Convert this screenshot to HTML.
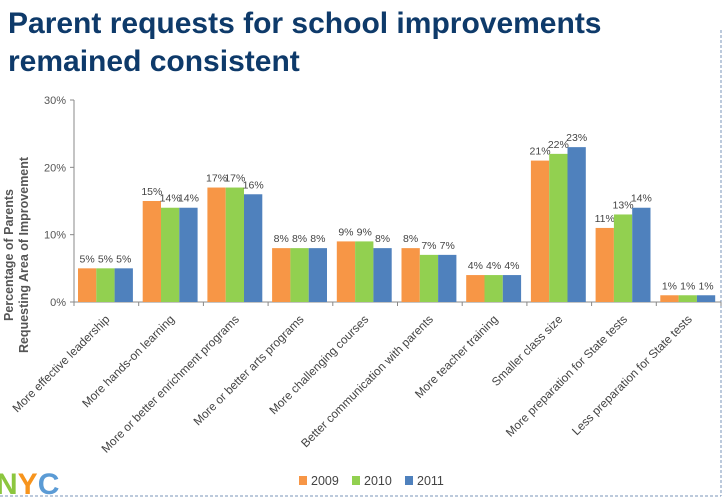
<!DOCTYPE html>
<html><head><meta charset="utf-8">
<style>
body{margin:0;background:#fff;width:727px;height:499px;overflow:hidden;font-family:"Liberation Sans",sans-serif;position:relative}
.t{position:absolute;left:8px;top:5px;font-weight:bold;font-size:30px;line-height:38px;color:#0e3a6a}
</style></head><body>
<div class="t">Parent requests for school improvements<br>remained consistent</div>
<svg id="c" width="727" height="499" style="position:absolute;left:0;top:0">
<line x1="0" y1="496" x2="721" y2="496" stroke="#7a96b8" stroke-dasharray="3,2"/>
<line x1="721" y1="30" x2="721" y2="496" stroke="#7a96b8" stroke-dasharray="3,2"/>
<text x="-4" y="494" font-size="30" font-weight="bold" fill="#8cc63f">N<tspan fill="#f7941d">Y</tspan><tspan fill="#5b9bd5">C</tspan></text>
</svg>
<script>
const categories=["More effective leadership","More hands-on learning","More or better enrichment programs","More or better arts programs","More challenging courses","Better communication with parents","More teacher training","Smaller class size","More preparation for State tests","Less preparation for State tests"];
const s2009=[5,15,17,8,9,8,4,21,11,1];
const s2010=[5,14,17,8,9,7,4,22,13,1];
const s2011=[5,14,16,8,8,7,4,23,14,1];
const yTicks=[0,10,20,30];
const seriesNames=["2009","2010","2011"];
const colors=["#f79646","#92d050","#4f81bd"];
const svg=document.getElementById('c');const NS="http://www.w3.org/2000/svg";
const x0=74,x1=721,y0=302,yTop=100;
const gw=(x1-x0)/categories.length;
const y=v=>y0-(v/30)*(y0-yTop);
function mk(t,a,txt){const e=document.createElementNS(NS,t);for(const k in a)e.setAttribute(k,a[k]);if(txt!==undefined)e.textContent=txt;svg.appendChild(e);return e;}
let e=mk('line',{x1:x0,y1:yTop,x2:x0,y2:y0+4,stroke:'#888'});


e=mk('line',{x1:x0,y1:y0,x2:x1,y2:y0,stroke:'#888'});


yTicks.forEach(v=>{
 let l=mk('line',{x1:x0-4,y1:y(v),x2:x0,y2:y(v),stroke:'#888'});
 
 
 let t=mk('text',{x:x0-8,y:y(v)+4,'text-anchor':'end','font-size':11,fill:'#555'},v+'%');
 
 
});
e=mk('text',{transform:'translate(13,255) rotate(-90)','text-anchor':'middle','font-size':12.5,'font-weight':'bold',fill:'#555'},'Percentage of Parents');


e=mk('text',{transform:'translate(28,255) rotate(-90)','text-anchor':'middle','font-size':12.5,'font-weight':'bold',fill:'#555'},'Requesting Area of Improvement');


const series=[s2009,s2010,s2011];const bw=18.3;
categories.forEach((c,i)=>{
 const gx=x0+i*gw;
 let tk=mk('line',{x1:gx+gw,y1:y0,x2:gx+gw,y2:y0+4,stroke:'#888'});
 
 
 series.forEach((s,j)=>{
  const bx=gx+4+j*bw;
  let r=mk('rect',{x:bx,y:y(s[i]),width:bw,height:y0-y(s[i]),fill:colors[j]});
  
  
  let t=mk('text',{x:bx+bw/2,y:y(s[i])-6,'text-anchor':'middle','font-size':10.5,fill:'#444'},s[i]+'%');
  
  
 });
 const cx=gx+gw/2+4;
 let lt=mk('text',{transform:`translate(${cx},320) rotate(-45)`,'text-anchor':'end','font-size':11.8,fill:'#444'},c);
 
 
});
seriesNames.forEach((n,j)=>{
 const lx=299+j*53;
 let r=mk('rect',{x:lx,y:476,width:8,height:9,fill:colors[j]});
 
 
 let t=mk('text',{x:lx+12,y:485,'font-size':12.5,fill:'#444'},n);
 
 
});
</script>
</body></html>
